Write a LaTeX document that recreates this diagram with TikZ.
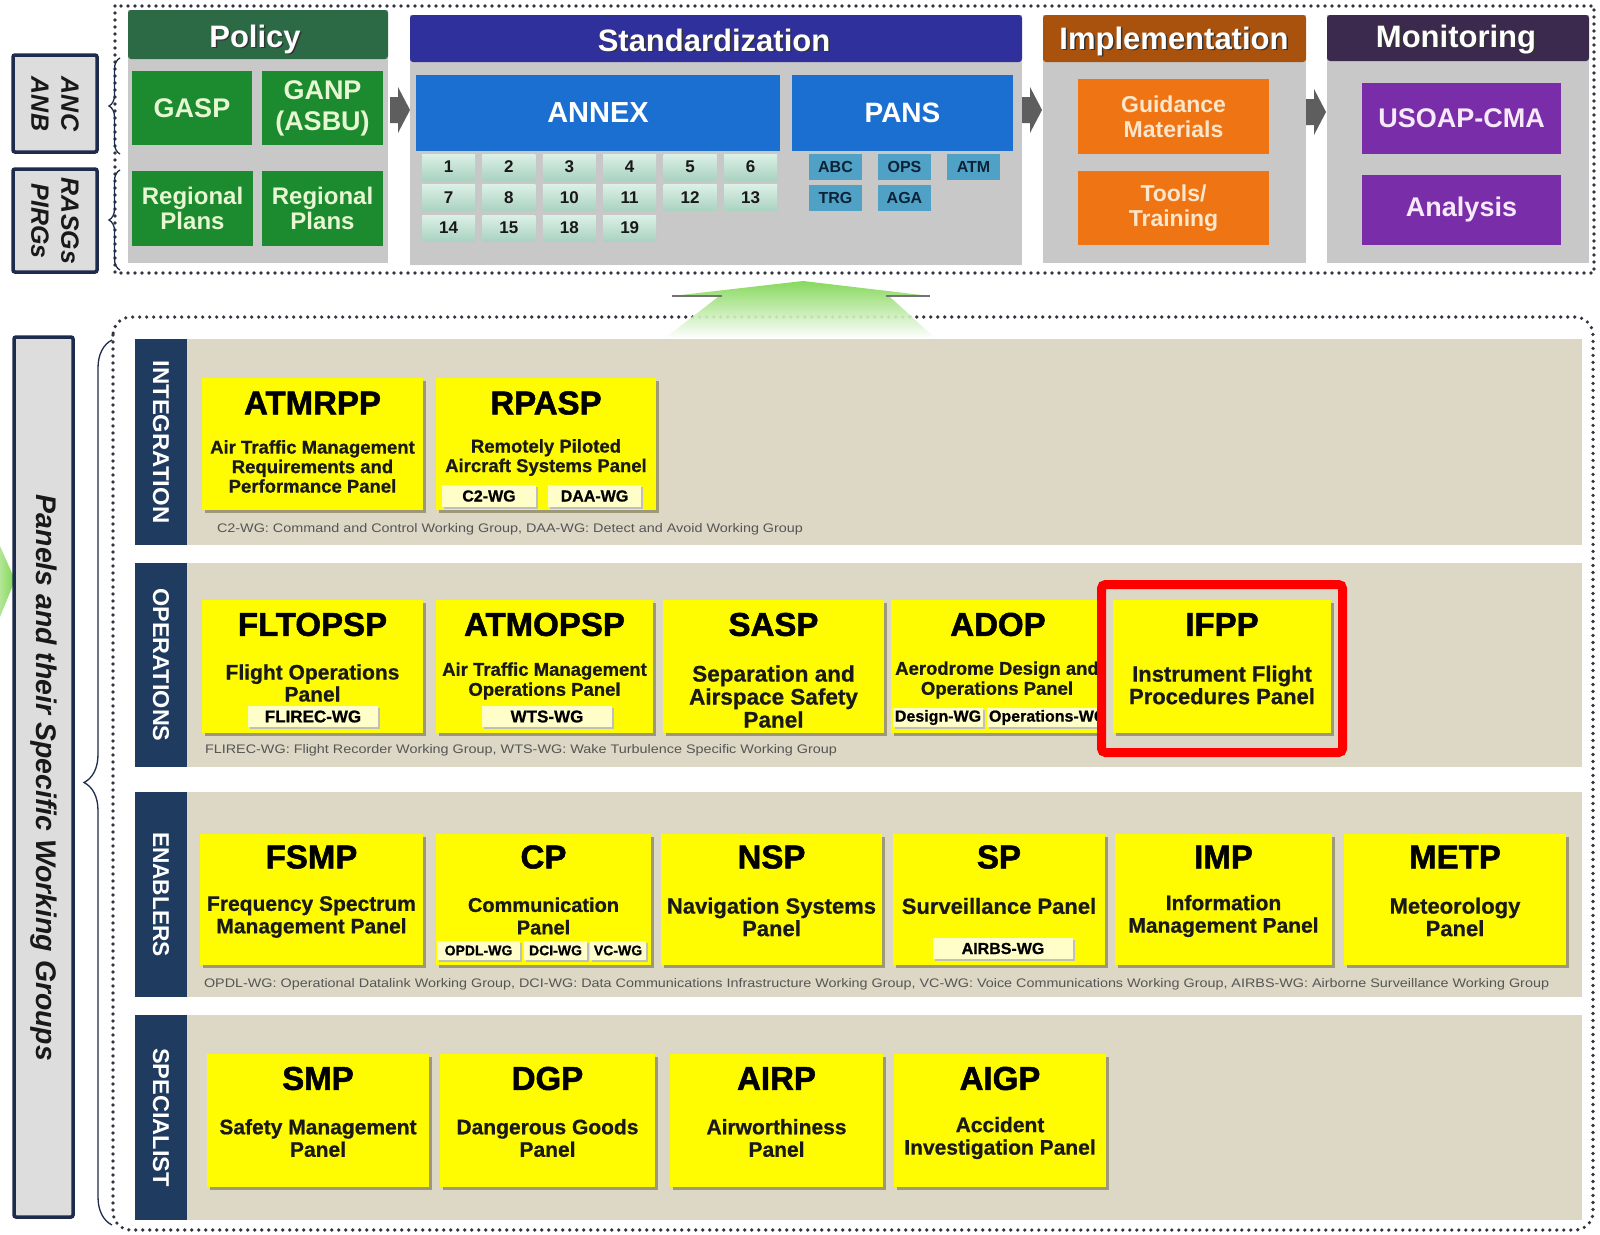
\documentclass[tikz,border=0pt]{standalone}
\usepackage{fontspec}
\setmainfont{Liberation Sans}
\newfontfamily\heavyfont[FakeBold=1.6]{Liberation Sans Bold}
\newfontfamily\semiheavy[FakeBold=0.7]{Liberation Sans Bold}
\usetikzlibrary{decorations.pathreplacing}
\definecolor{polhead}{HTML}{2C6A45}
\definecolor{polbox}{HTML}{1C8A2E}
\definecolor{poltxt}{HTML}{E6F7D2}
\definecolor{colgrey}{HTML}{C8C8C8}
\definecolor{stdhead}{HTML}{30309C}
\definecolor{annexblue}{HTML}{1B6FD0}
\definecolor{tiletop}{HTML}{DCF0E6}
\definecolor{tilebot}{HTML}{AAD3C1}
\definecolor{panstile}{HTML}{4FA2C6}
\definecolor{panstxt}{HTML}{0C2236}
\definecolor{imphead}{HTML}{A8520E}
\definecolor{impbox}{HTML}{EF7514}
\definecolor{imptxt}{HTML}{FCE6CC}
\definecolor{monhead}{HTML}{3B2A4E}
\definecolor{monbox}{HTML}{7A2DA8}
\definecolor{montxt}{HTML}{F6EAFA}
\definecolor{arrgrey}{HTML}{5E5E5E}
\definecolor{lblfill}{HTML}{DDDDDD}
\definecolor{lblborder}{HTML}{1D2C4C}
\definecolor{beige}{HTML}{DCD8C5}
\definecolor{navy}{HTML}{1F3B60}
\definecolor{yel}{HTML}{FFFB00}
\definecolor{yshadow}{HTML}{9C9878}
\definecolor{wgfill}{HTML}{FFFDC8}
\definecolor{notegrey}{HTML}{555555}
\definecolor{dotcol}{HTML}{34343F}
\definecolor{greenarr}{HTML}{7ED650}
\definecolor{framered}{HTML}{FF0000}
\newcommand\fsz[2]{\fontsize{#1}{#2}\selectfont}
% box node: name, x1, y1, x2, y2, style, text
\newcommand\bx[7]{\node[anchor=north west, minimum width={(#4)-(#2)}, minimum height={(#5)-(#3)}, #6] (#1) at (#2,#3) {#7};}
\newcommand\hdrtext[4]{\node[hdrsh, anchor=base, xshift=1.5pt, yshift=-1.5pt] (#1s) at (#2,#3) {#4};\node[hdr, anchor=base] (#1) at (#2,#3) {#4};}
\newcommand\garrow[2]{\fill[arrgrey] (#1,#2-13) -- (#1+8,#2-13) -- (#1+8,#2-23) -- (#1+20,#2) -- (#1+8,#2+23) -- (#1+8,#2+13) -- (#1,#2+13) -- cycle;}
% yellow panel: name, x1, y1, x2, y2, title y, title
\newcommand\ypan[7]{\bx{#1}{#2}{#3}{#4}{#5}{ybox}{}\node[ytitle] (#1t) at ({(#2+#4)/2},#6) {#7};}
\newcommand\yd[5]{\node[ydesc, font={\semiheavy\fsz{#2}{#3}}] (#1) at (#4) {#5};}
\newcommand\wg[7]{\bx{#1}{#2}{#3}{#4}{#5}{wgbox, font={\semiheavy\fsz{#6}{#6}}}{#7}}
\begin{document}
\begin{tikzpicture}[x=1pt,y=-1pt,
 every node/.style={inner sep=0pt, outer sep=0pt},
 hdr/.style={text=white, font={\bfseries\fsz{31}{33}}},
 hdrsh/.style={text=black!80, font={\bfseries\fsz{31}{33}}},
 gbox/.style={fill=polbox, text=poltxt, align=center, font={\bfseries\fsz{27}{31}}},
 bluebox/.style={fill=annexblue, text=white, font={\bfseries\fsz{29}{30}}},
 atile/.style={minimum width=53, minimum height=26, top color=tiletop, bottom color=tilebot, text=black!90, font={\bfseries\fsz{17}{18}}, preaction={fill=black!22, transform canvas={xshift=1.5pt, yshift=-1.5pt}}},
 ptile/.style={minimum width=53, minimum height=26, fill=panstile, text=panstxt, font={\bfseries\fsz{16}{17}}},
 obox/.style={fill=impbox, text=imptxt, align=center, font={\bfseries\fsz{23}{25}}},
 pbox/.style={fill=monbox, text=montxt, font={\bfseries\fsz{27}{29}}},
 lbl/.style={fill=lblfill, draw=lblborder, line width=3.5pt, rounded corners=2},
 brc/.style={decorate, draw=lblborder, line width=1.3pt},
 dotline/.style={draw=dotcol, line width=3.6pt, dash pattern=on 0pt off 7pt, line cap=round},
 rowbg/.style={fill=beige},
 sidetxt/.style={text=white, font={\bfseries\fsz{20}{22}}},
 ybox/.style={fill=yel, preaction={fill=yshadow, transform canvas={xshift=3pt, yshift=-3pt}}},
 ytitle/.style={text=black, font={\heavyfont\fsz{33}{35}}},
 ydesc/.style={text=black!90, align=center},
 wgbox/.style={fill=wgfill, text=black, preaction={fill=black!25, transform canvas={xshift=1.5pt, yshift=-1.5pt}}},
 note/.style={text=notegrey, font={\fsz{13}{14}}}
]
\useasboundingbox (0,0) rectangle (1600,1234);
\fill[white] (0,0) rectangle (1600,1234);

% ---------- top section ----------
\draw[dotline] (115,6) rectangle (1594,273);

\bx{lblanc}{13}{55}{97}{152}{lbl}{}
\node[rotate=-90, align=center, text=black!90, font={\bfseries\itshape\fsz{25}{30}}] (tanc) at (55,104) {ANC\\ANB};
\bx{lblras}{13}{169}{97}{272}{lbl}{}
\node[rotate=-90, align=center, text=black!90, font={\bfseries\itshape\fsz{25}{30}}] (tras) at (55,221) {RASGs\\PIRGs};
\draw[brc, decoration={brace, amplitude=11pt}] (120,154) -- (120,58);
\draw[brc, decoration={brace, amplitude=11pt}] (120,270) -- (120,170);

% Policy
\bx{polbody}{128}{10}{388}{263}{fill=colgrey}{}
\bx{polhd}{128}{10}{388}{59}{fill=polhead, rounded corners=3}{}
\hdrtext{poltitle}{255}{47}{Policy}
\bx{gasp}{132}{71}{252}{145}{gbox}{GASP}
\bx{ganp}{262}{71}{383}{145}{gbox}{GANP\\(ASBU)}
\bx{reg1}{132}{171}{253}{246}{gbox, font={\bfseries\fsz{24}{25.5}}}{Regional\\Plans}
\bx{reg2}{262}{171}{383}{246}{gbox, font={\bfseries\fsz{24}{25.5}}}{Regional\\Plans}
\garrow{390}{110}

% Standardization
\bx{stdbody}{410}{15}{1022}{265}{fill=colgrey}{}
\bx{stdhd}{410}{15}{1022}{62}{fill=stdhead, rounded corners=3}{}
\hdrtext{stdtitle}{714}{51}{Standardization}
\bx{annex}{416}{75}{780}{151}{bluebox}{ANNEX}
\bx{pans}{792}{75}{1013}{151}{bluebox, font={\bfseries\fsz{28}{30}}}{PANS}
\foreach \t [count=\i from 0] in {1,2,3,4,5,6} {\node[atile] (t\t) at (448.5+60.4*\i,167) {\t};}
\foreach \t [count=\i from 0] in {7,8,10,11,12,13} {\node[atile] (t\t) at (448.5+60.4*\i,197.5) {\t};}
\foreach \t [count=\i from 0] in {14,15,18,19} {\node[atile] (t\t) at (448.5+60.4*\i,228) {\t};}
\node[ptile] (pabc) at (835.5,167) {ABC};
\node[ptile] (pops) at (904.5,167) {OPS};
\node[ptile] (patm) at (973.5,167) {ATM};
\node[ptile] (ptrg) at (835.5,197.5) {TRG};
\node[ptile] (paga) at (904.5,197.5) {AGA};
\garrow{1022}{110}

% Implementation
\bx{impbody}{1043}{15}{1306}{263}{fill=colgrey}{}
\bx{imphd}{1043}{15}{1306}{62}{fill=imphead, rounded corners=3}{}
\hdrtext{imptitle}{1174}{49}{Implementation}
\bx{guid}{1078}{79}{1269}{154}{obox}{Guidance\\Materials}
\bx{tools}{1078}{171}{1269}{245}{obox}{Tools/\\Training}
\garrow{1306}{112}

% Monitoring
\bx{monbody}{1327}{15}{1589}{263}{fill=colgrey}{}
\bx{monhd}{1327}{15}{1589}{61}{fill=monhead, rounded corners=3}{}
\hdrtext{montitle}{1456}{47}{Monitoring}
\bx{usoap}{1362}{83}{1561}{154}{pbox}{USOAP-CMA}
\bx{analysis}{1362}{175}{1561}{245}{pbox}{Analysis}

% ---------- lower section ----------
\draw[dotline, rounded corners=18] (113,317) rectangle (1593,1230);
\shade[top color=greenarr, bottom color=white, opacity=0.92] (672,296) -- (803,281) -- (930,296) -- (890,297) -- (935,338) -- (665,338) -- (718,297) -- cycle;
\draw[black!55, line width=1.2pt] (672,296) -- (722,296);
\draw[black!55, line width=1.2pt] (886,296) -- (930,296);
\shade[left color=greenarr!60, right color=greenarr] (0,546) -- (15,580) -- (0,617) -- cycle;

\bx{lblpan}{14}{337}{73}{1217}{lbl}{}
\node[rotate=-90, text=black!90, font={\bfseries\itshape\fsz{26}{28}}] (tpan) at (44,778) {\resizebox{566pt}{!}{Panels and their Specific Working Groups}};
\draw[brc, decoration={brace, amplitude=28pt}] (112,1225) -- (112,340);

% rows
\bx{rowint}{135}{339}{1582}{545}{rowbg}{}
\bx{sideint}{135}{339}{187}{545}{fill=navy}{}
\node[sidetxt, rotate=-90] (lint) at (161,442) {\resizebox{163pt}{16pt}{INTEGRATION}};
\bx{rowops}{135}{563}{1582}{767}{rowbg}{}
\bx{sideops}{135}{563}{187}{767}{fill=navy}{}
\node[sidetxt, rotate=-90] (lops) at (161,665) {\resizebox{153pt}{16pt}{OPERATIONS}};
\bx{rowena}{135}{792}{1582}{997}{rowbg}{}
\bx{sideena}{135}{792}{187}{997}{fill=navy}{}
\node[sidetxt, rotate=-90] (lena) at (161,894.5) {\resizebox{125pt}{16pt}{ENABLERS}};
\bx{rowspe}{135}{1015}{1582}{1220}{rowbg}{}
\bx{sidespe}{135}{1015}{187}{1220}{fill=navy}{}
\node[sidetxt, rotate=-90] (lspe) at (161,1117.5) {\resizebox{139pt}{16pt}{SPECIALIST}};

% INTEGRATION panels
\ypan{atmrpp}{202}{378}{423}{510}{403}{ATMRPP}
\yd{atmrppd}{18.5}{19.5}{312.5,466.5}{Air Traffic Management\\Requirements and\\Performance Panel}
\ypan{rpasp}{436}{378}{656}{510}{403}{RPASP}
\yd{rpaspd}{18.5}{19.5}{546,457.5}{Remotely Piloted\\Aircraft Systems Panel}
\wg{c2wg}{442}{485}{536}{507}{16}{C2-WG}
\wg{daawg}{548}{485}{641}{507}{16}{DAA-WG}
\node[note, anchor=west] (n1) at (217,529) {\resizebox{586pt}{9pt}{C2-WG: Command and Control Working Group, DAA-WG: Detect and Avoid Working Group}};

% OPERATIONS panels
\ypan{fltopsp}{202}{600}{423}{733}{624.5}{FLTOPSP}
\yd{fltopspd}{21}{22}{312.5,683}{Flight Operations\\Panel}
\wg{flirec}{248}{706}{378}{727}{17}{FLIREC-WG}
\ypan{atmopsp}{436}{600}{653}{733}{624.5}{ATMOPSP}
\yd{atmopspd}{18.5}{20}{544.5,681}{Air Traffic Management\\Operations Panel}
\wg{wtswg}{482}{706}{612}{727}{17}{WTS-WG}
\ypan{sasp}{663}{600}{884}{733}{624.5}{SASP}
\yd{saspd}{22.5}{23}{773.5,696.5}{Separation and\\Airspace Safety\\Panel}
\begin{scope}
\clip (880,590) rectangle (1097,745);
\ypan{adop}{891}{600}{1105}{733}{624.5}{ADOP}
\yd{adopd}{18.5}{20}{997,680}{Aerodrome Design and\\Operations Panel}
\wg{designwg}{893}{708}{983}{727}{16}{Design-WG}
\bx{opswg}{987}{708}{1120}{727}{wgbox}{}
\node[anchor=west, text=black, font={\semiheavy\fsz{16}{16}}] (opswgt) at (989,717.5) {Operations-WG};
\end{scope}
\ypan{ifpp}{1113}{600}{1331}{733}{624.5}{IFPP}
\yd{ifppd}{22}{22.5}{1222,685}{Instrument Flight\\Procedures Panel}
\node[note, anchor=west] (n2) at (205,750) {\resizebox{632pt}{9pt}{FLIREC-WG: Flight Recorder Working Group, WTS-WG: Wake Turbulence Specific Working Group}};

% ENABLERS panels
\ypan{fsmp}{200}{834}{423}{965}{857}{FSMP}
\yd{fsmpd}{21}{22.5}{311.5,917}{Frequency Spectrum\\Management Panel}
\ypan{cp}{436}{834}{651}{965}{857}{CP}
\yd{cpd}{20}{22.5}{543.5,916}{Communication\\Panel}
\wg{opdl}{437}{941}{520}{960}{14}{OPDL-WG}
\wg{dciwg}{524}{941}{587}{960}{14}{DCI-WG}
\wg{vcwg}{590}{941}{646}{960}{14}{VC-WG}
\ypan{nsp}{661}{834}{882}{965}{857}{NSP}
\yd{nspd}{22}{22.5}{771.5,917}{Navigation Systems\\Panel}
\ypan{sp}{893}{834}{1105}{965}{857}{SP}
\yd{spd}{22}{22.5}{999,906}{Surveillance Panel}
\wg{airbs}{933}{938}{1073}{959}{16}{AIRBS-WG}
\ypan{imp}{1115}{834}{1332}{965}{857}{IMP}
\yd{impd}{21}{22.5}{1223.5,916}{Information\\Management Panel}
\ypan{metp}{1344}{834}{1566}{965}{857}{METP}
\yd{metpd}{22}{22.5}{1455,917}{Meteorology\\Panel}
\node[note, anchor=west] (n3) at (204,984) {\resizebox{1345pt}{9pt}{OPDL-WG: Operational Datalink Working Group, DCI-WG: Data Communications Infrastructure Working Group, VC-WG: Voice Communications Working Group, AIRBS-WG: Airborne Surveillance Working Group}};

% SPECIALIST panels
\ypan{smp}{207}{1054}{429}{1187}{1078.5}{SMP}
\yd{smpd}{21}{22.5}{318,1138}{Safety Management\\Panel}
\ypan{dgp}{440}{1054}{655}{1187}{1078.5}{DGP}
\yd{dgpd}{21}{22.5}{547.5,1138}{Dangerous Goods\\Panel}
\ypan{airp}{670}{1054}{883}{1187}{1078.5}{AIRP}
\yd{airpd}{21}{22.5}{776.5,1138}{Airworthiness\\Panel}
\ypan{aigp}{894}{1054}{1106}{1187}{1078.5}{AIGP}
\yd{aigpd}{21}{22.5}{1000,1138}{Accident\\Investigation Panel}

% highlight frame
\node[draw=framered, line width=9pt, rounded corners=4, anchor=north west, minimum width=241, minimum height=168] (ifppframe) at (1101.5,584.5) {};
\end{tikzpicture}
\end{document}
